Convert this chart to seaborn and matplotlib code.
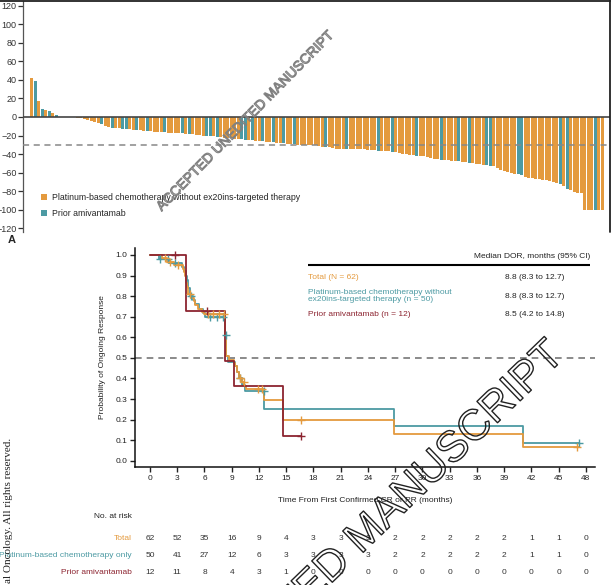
import numpy as np
import pandas as pd
import matplotlib
matplotlib.use('Agg')
import matplotlib.pyplot as plt
import matplotlib.transforms as mtransforms
import matplotlib.patheffects as pe
from matplotlib.lines import Line2D
from matplotlib.patches import Patch
import seaborn as sns

# ---- waterfall data (best % change from baseline, sorted) ----
wf_change = [42, 39, 17, 9, 7, 6, 4, 2, 0, 0, 0, 0, 0,
             -1, -1.5, -2, -3, -4, -5, -7, -8, -10, -11, -12, -12, -12, -13, -13, -13,
             -14, -14, -14, -15, -15, -15, -16, -16, -16, -16, -17, -17, -17, -17, -17,
             -18, -18, -18, -19, -19, -20, -20, -21, -21, -22, -22, -23, -23, -23,
             -24, -24, -24, -25, -25, -25, -26, -26, -26, -27, -27, -27, -28, -28, -28,
             -29, -29, -29, -30, -30, -30, -30, -30, -30, -31, -32, -32, -32, -33, -34,
             -34, -34, -34, -35, -35, -35, -35, -35, -36, -36, -36, -37, -37, -37, -37,
             -38, -38, -39, -40, -40, -41, -41, -42, -42, -42, -43, -44, -45, -45, -46,
             -46, -46, -47, -47, -48, -49, -49, -50, -50, -51, -51, -52, -52, -53, -53,
             -55, -57, -58, -59, -60, -61, -62, -63, -65, -66, -66, -67, -67, -68, -68,
             -69, -70, -71, -72, -74, -78, -79, -81, -82, -82,
             -100, -100, -100, -100, -100, -100]
# patients with prior amivantamab (index into the sorted list)
wf_amivantamab = [1, 3, 5, 7, 20, 23, 26, 27, 30, 33, 38, 43, 45, 50, 51, 53, 60, 61, 63,
                  66, 69, 72, 75, 84, 90, 99, 103, 110, 117, 122, 125, 130, 131, 139, 140,
                  151, 153, 161]

# ---- Kaplan-Meier duration of response ----
km_total_t = [0, 1.3, 1.9, 2.6, 3.6, 3.8, 3.9, 4.0, 4.1, 4.2, 4.5, 4.8, 5.0, 5.3, 5.7, 6.0,
              8.3, 8.4, 8.7, 9.2, 9.4, 9.6, 9.8, 10.1, 10.4, 10.6, 12.6, 14.6, 26.9, 41.1, 47.2]
km_total_s = [1.0, 0.984, 0.967, 0.95, 0.933, 0.915, 0.897, 0.862, 0.845, 0.81, 0.792, 0.775,
              0.757, 0.74, 0.722, 0.712, 0.61, 0.51, 0.49, 0.475, 0.46, 0.43, 0.40, 0.385,
              0.365, 0.347, 0.297, 0.198, 0.132, 0.066, 0.066]
km_total_cens = [1.6, 2.2, 3.1, 4.4, 6.4, 6.9, 7.6, 8.1, 9.9, 10.3, 11.9, 12.3, 16.6, 47.0]

km_plat_t = [0, 1.0, 2.1, 3.5, 3.8, 4.0, 4.1, 4.2, 4.4, 4.7, 5.0, 5.4, 5.8, 6.1,
             8.3, 8.4, 8.6, 9.4, 9.6, 9.8, 10.1, 10.5, 12.6, 26.9, 41.1, 47.2]
km_plat_s = [1.0, 0.98, 0.96, 0.94, 0.92, 0.90, 0.88, 0.84, 0.80, 0.78, 0.76, 0.74, 0.72, 0.70,
             0.61, 0.51, 0.48, 0.46, 0.43, 0.40, 0.37, 0.339, 0.254, 0.169, 0.085, 0.085]
km_plat_cens = [1.1, 2.0, 2.8, 4.5, 6.6, 7.4, 8.0, 8.35, 9.9, 12.5, 47.2]

km_ami_t = [0, 4.0, 8.3, 9.2, 14.6, 16.6]
km_ami_s = [1.0, 0.727, 0.485, 0.364, 0.121, 0.121]
km_ami_cens = [2.8, 6.3, 16.6]

risk_times = list(range(0, 49, 3))
risk_total = [62, 52, 35, 16, 9, 4, 3, 3, 3, 2, 2, 2, 2, 2, 1, 1, 0]
risk_plat = [50, 41, 27, 12, 6, 3, 3, 3, 3, 2, 2, 2, 2, 2, 1, 1, 0]
risk_ami = [12, 11, 8, 4, 3, 1, 0, 0, 0, 0, 0, 0, 0, 0, 0, 0, 0]

ORANGE = '#E49A3E'
TEAL = '#4C9AA3'
RED = '#8C2430'

sns.set_style('ticks')
plt.rcParams['font.family'] = ['Liberation Sans', 'DejaVu Sans']

W, H = 611, 585
fig = plt.figure(figsize=(W / 100, H / 100), dpi=100)


def fx(px):
    return px / W


def fy(py):
    return 1 - py / H


# ================= waterfall panel =================
ax1 = fig.add_axes([fx(23), fy(232), 587 / W, 231 / H])
df = pd.DataFrame({'patient': np.arange(len(wf_change)), 'change': wf_change})
df['group'] = np.where(df['patient'].isin(wf_amivantamab), 'ami', 'plat')
sns.barplot(data=df, x='patient', y='change', hue='group',
            palette={'plat': ORANGE, 'ami': TEAL}, dodge=False, width=0.78,
            saturation=1, legend=False, linewidth=0, edgecolor='none', ax=ax1)
ax1.set_xlim(-2.5, 165.2)
ax1.set_ylim(-124, 125)
ax1.axhline(0, color='#444444', lw=1.2, zorder=3)
ax1.axhline(-30, color='#888888', lw=1.1, ls=(0, (4, 3)), zorder=3)
ax1.set_yticks(range(-120, 121, 20))
ax1.tick_params(axis='y', labelsize=6.5, length=3.5, width=0.9, pad=1, colors='#333333')
ax1.set_xticks([])
ax1.set_xlabel('')
ax1.set_ylabel('')
for s in ['top', 'right', 'bottom']:
    ax1.spines[s].set_visible(False)
ax1.spines['left'].set_color('#555555')
ax1.spines['left'].set_linewidth(0.9)
ax1.legend(handles=[Patch(facecolor=ORANGE, linewidth=0), Patch(facecolor=TEAL, linewidth=0)],
           labels=['Platinum-based chemotherapy without ex20ins-targeted therapy',
                   'Prior amivantamab'],
           loc='lower left', bbox_to_anchor=(0.03, 0.06), frameon=False, fontsize=6.3,
           handlelength=0.75, handleheight=0.75, handletextpad=0.5, labelspacing=0.8,
           borderaxespad=0, borderpad=0)

# panel frame lines
fig.add_artist(Line2D([0, 1], [fy(1), fy(1)], transform=fig.transFigure, color='#222222', lw=1.3))
fig.add_artist(Line2D([fx(609.5), fx(609.5)], [1, fy(232)], transform=fig.transFigure,
                      color='#222222', lw=1.3))

# ================= KM panel =================
ax2 = fig.add_axes([fx(135), fy(467), 460 / W, 219 / H])
curves = [(km_plat_t, km_plat_s, km_plat_cens, TEAL),
          (km_total_t, km_total_s, km_total_cens, ORANGE),
          (km_ami_t, km_ami_s, km_ami_cens, RED)]
for t, s, cens, col in curves:
    sns.lineplot(x=t, y=s, drawstyle='steps-post', estimator=None, sort=False,
                 color=col, lw=1.3, ax=ax2)
    t_arr = np.array(t)
    s_arr = np.array(s)
    idx = np.searchsorted(t_arr, cens, side='right') - 1
    sns.scatterplot(x=cens, y=s_arr[idx], marker='+', s=28, color=col, linewidth=1.0,
                    ax=ax2, zorder=4)

ax2.axhline(0.5, color='#777777', lw=1.2, ls=(0, (4, 3)), zorder=1)
ax2.set_xlim(-1.65, 49)
ax2.set_ylim(-0.03, 1.034)
ax2.set_xticks(risk_times)
ax2.set_yticks(np.arange(0, 1.01, 0.1))
ax2.set_yticklabels([f'{v:.1f}' for v in np.arange(0, 1.01, 0.1)])
ax2.tick_params(labelsize=6, length=3.5, width=1.0, pad=2, colors='#222222')
sns.despine(ax=ax2)
for s in ['left', 'bottom']:
    ax2.spines[s].set_linewidth(1.1)
    ax2.spines[s].set_color('#111111')
ax2.set_xlabel('Time From First Confirmed CR or PR (months)', fontsize=6, color='#222222')
ax2.xaxis.set_label_coords(0.5, -0.135)
ax2.set_ylabel('Probability of Ongoing Response', fontsize=6, color='#222222')
ax2.yaxis.set_label_coords(-0.062, 0.5)

# median DOR table inside the plot
ax2.hlines(0.951, 17.4, 48.5, color='black', lw=1.5)
ax2.text(48.5, 0.995, 'Median DOR, months (95% CI)', fontsize=6, color='#222222',
         ha='right', va='center')
ax2.text(17.4, 0.893, 'Total (N = 62)', fontsize=6, color=ORANGE, va='center')
ax2.text(17.4, 0.80, 'Platinum-based chemotherapy without\nex20ins-targeted therapy (n = 50)',
         fontsize=6, color=TEAL, va='center', linespacing=1.0)
ax2.text(17.4, 0.709, 'Prior amivantamab (n = 12)', fontsize=6, color=RED, va='center')
ax2.text(39.1, 0.893, '8.8 (8.3 to 12.7)', fontsize=6, color='#222222', va='center')
ax2.text(39.1, 0.80, '8.8 (8.3 to 12.7)', fontsize=6, color='#222222', va='center')
ax2.text(39.1, 0.709, '8.5 (4.2 to 14.8)', fontsize=6, color='#222222', va='center')

fig.text(fx(8), fy(240), 'A', fontsize=8, fontweight='bold', va='center', ha='left')

# number at risk table
trans = mtransforms.blended_transform_factory(ax2.transData, fig.transFigure)
fig.text(fx(132), fy(517), 'No. at risk', fontsize=6, ha='right', va='center', color='#222222')
rows = [('Total', risk_total, ORANGE, 538.5),
        ('Platinum-based chemotherapy only', risk_plat, TEAL, 555.5),
        ('Prior amivantamab', risk_ami, RED, 573)]
for lab, vals, col, py in rows:
    fig.text(fx(132), fy(py), lab, fontsize=6, ha='right', va='center', color=col)
    for t, v in zip(risk_times, vals):
        ax2.text(t, fy(py), str(v), transform=trans, fontsize=6, ha='center', va='center',
                 color='#333333')

# side notice and watermarks
fig.text(fx(9), fy(438), 'al Oncology. All rights reserved.', rotation=90,
         rotation_mode='anchor', ha='right', va='center', fontsize=8,
         family=['Liberation Serif', 'DejaVu Serif'], color='#222222')
fig.text(fx(245), fy(121), 'ACCEPTED UNEDITED MANUSCRIPT', rotation=45.5, ha='center',
         va='center', fontsize=10, color='none',
         path_effects=[pe.Stroke(linewidth=0.8, foreground='#808080')])
fig.text(fx(557), fy(350), 'ACCEPTED UNEDITED MANUSCRIPT', rotation=44, rotation_mode='anchor',
         ha='right', va='center', fontsize=31, color='none',
         path_effects=[pe.Stroke(linewidth=1.0, foreground='#222222')])

fig.savefig('out.png', dpi=100)
